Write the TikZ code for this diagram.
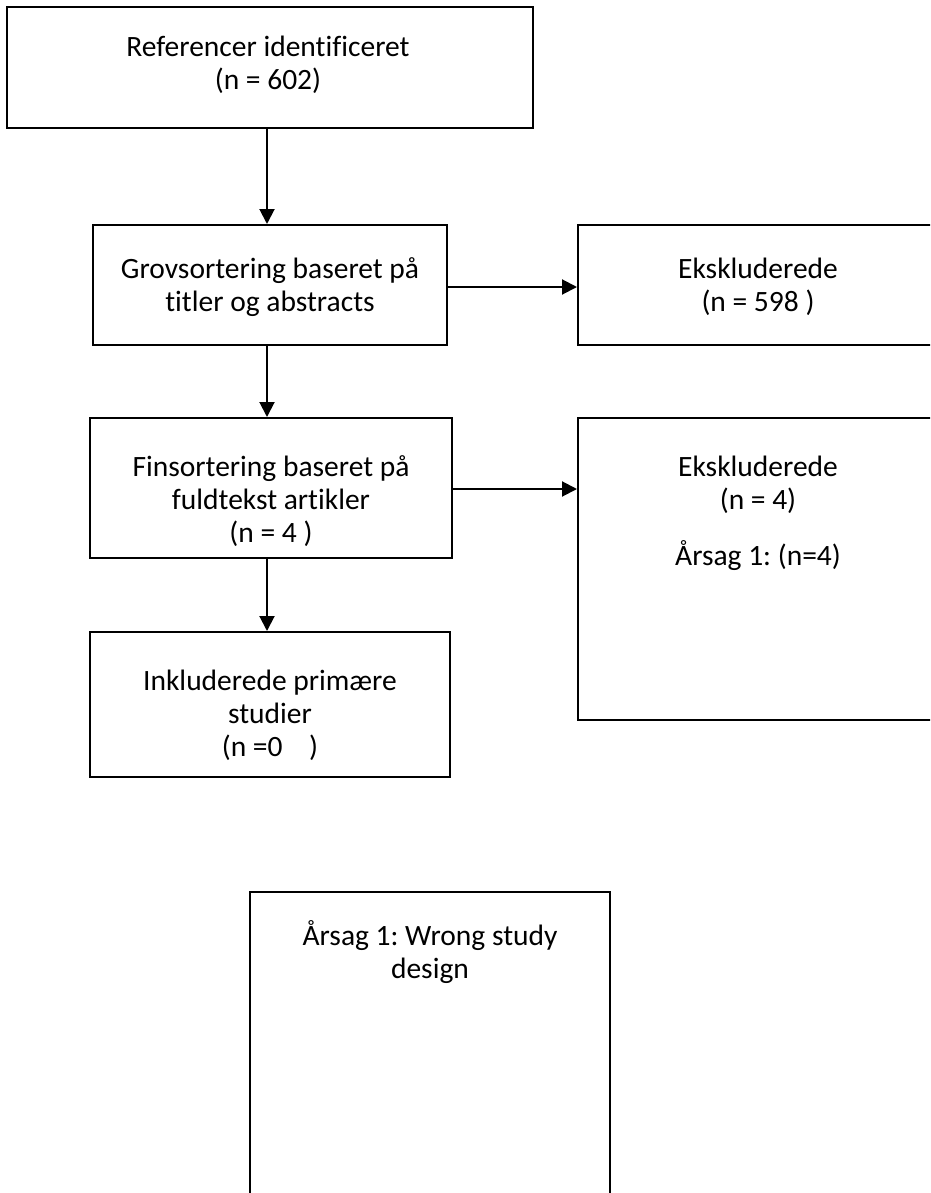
\documentclass[tikz,border=0pt]{standalone}
\usepackage{fontspec}
\setmainfont[Ligatures=NoCommon]{Carlito}
\frenchspacing
\usetikzlibrary{arrows.meta}
\begin{document}
\begin{tikzpicture}[x=1pt,y=-1pt,
  box/.style={draw=black,line width=2pt,rectangle,inner sep=0pt},
  lbl/.style={anchor=base,inner sep=0pt,font=\fontsize{29.5}{34}\selectfont},
  arr/.style={line width=2pt,-{Triangle[length=15pt,width=15pt]}}]
\useasboundingbox (0,0) rectangle (930,1193);
\clip (0,0) rectangle (930,1193);
% boxes
\node[box,minimum width=526pt,minimum height=121pt] (b1) at (270,67.5) {};
\node[box,minimum width=354pt,minimum height=120pt] (b2) at (270,285) {};
\node[box,minimum width=360pt,minimum height=120pt] (b3) at (758,285) {};
\node[box,minimum width=362pt,minimum height=140pt] (b4) at (271,488) {};
\node[box,minimum width=360pt,minimum height=302pt] (b5) at (758,569) {};
\node[box,minimum width=360pt,minimum height=145pt] (b6) at (270,704.5) {};
\node[box,minimum width=360pt,minimum height=400pt] (b7) at (430,1092) {};
% texts
\node[lbl] (t1a) at (268,57) {Referencer identificeret};
\node[lbl] (t1b) at (268,90) {(n = 602)};
\node[lbl] (t2a) at (270,278) {Grovsortering baseret på};
\node[lbl] (t2b) at (270,311) {titler og abstracts};
\node[lbl] (t3a) at (758,278) {Ekskluderede};
\node[lbl] (t3b) at (758,311) {(n = 598 )};
\node[lbl] (t4a) at (271,476) {Finsortering baseret på};
\node[lbl] (t4b) at (271,509) {fuldtekst artikler};
\node[lbl] (t4c) at (271,542) {(n = 4 )};
\node[lbl] (t5a) at (758,476) {Ekskluderede};
\node[lbl] (t5b) at (758,509) {(n = 4)};
\node[lbl] (t5c) at (758,565) {Årsag 1: (n=4)};
\node[lbl] (t6a) at (270,690) {Inkluderede primære};
\node[lbl] (t6b) at (270,723) {studier};
\node[lbl] (t6c) at (270,756) {(n =0\ \ \ \ )};
\node[lbl] (t7a) at (430,945) {Årsag 1: Wrong study};
\node[lbl] (t7b) at (430,978) {design};
% arrows
\draw[arr] (b1.south -| 267,0) -- (b2.north -| 267,0);
\draw[arr] (b2.south -| 267,0) -- (b4.north -| 267,0);
\draw[arr] (b4.south -| 267,0) -- (b6.north -| 267,0);
\draw[arr] (b2.east |- 0,287) -- (b3.west |- 0,287);
\draw[arr] (b4.east |- 0,489) -- (b5.west |- 0,489);
\end{tikzpicture}
\end{document}
